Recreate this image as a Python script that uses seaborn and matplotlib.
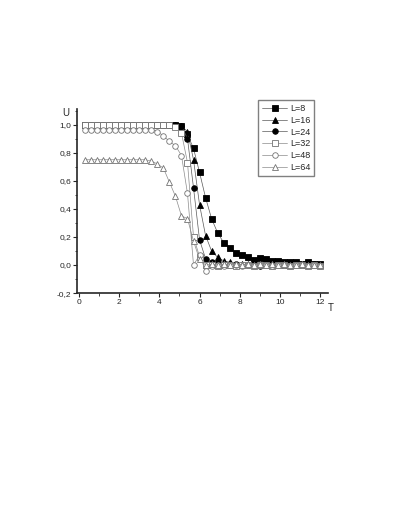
import numpy as np
import pandas as pd
import seaborn as sns
import matplotlib.pyplot as plt
from matplotlib.ticker import FuncFormatter, MultipleLocator

# temperature grid shared by all runs
T = [round(0.3 * k, 1) for k in range(1, 41)]

u_L8 = [1.0] * 16 + [0.99, 0.93, 0.83, 0.66, 0.48, 0.33, 0.23, 0.16, 0.12, 0.085,
                     0.07, 0.055, 0.035, 0.05, 0.04, 0.03, 0.03, 0.02, 0.02, 0.02,
                     0.01, 0.02, 0.01, 0.005]
u_L16 = [1.0] * 16 + [0.99, 0.95, 0.75, 0.43, 0.21, 0.10, 0.055, 0.03, 0.02, 0.01,
                      0.01, 0.005, 0.005, 0.0, 0.005, 0.0, 0.005, 0.0, 0.0, 0.005,
                      0.0, 0.0, 0.0, 0.0]
u_L24 = [1.0] * 16 + [0.99, 0.90, 0.55, 0.18, 0.045, 0.02, 0.02, 0.01, 0.01, 0.005,
                      0.0, 0.0, 0.0, -0.01, 0.0, 0.005, 0.0, 0.0, 0.005, 0.0,
                      0.0, 0.0, 0.005, 0.0]
u_L32 = [1.0] * 15 + [0.98, 0.94, 0.73, 0.20, 0.06, 0.0, 0.0, -0.005, 0.0, 0.0,
                      -0.005, 0.0, 0.0, -0.005, 0.0, 0.0, -0.005, 0.0, 0.0, -0.005,
                      0.0, 0.0, -0.005, 0.0, -0.005]
u_L48 = [0.965] * 12 + [0.95, 0.92, 0.88, 0.85, 0.78, 0.51, 0.0, 0.07, -0.04, -0.01,
                        0.0, -0.005, 0.0, 0.0, -0.005, 0.0, -0.01, 0.0, 0.0, -0.005,
                        0.0, 0.0, -0.005, 0.0, 0.0, -0.005, 0.0, -0.005]
u_L64 = [0.75] * 11 + [0.74, 0.72, 0.69, 0.59, 0.49, 0.35, 0.33, 0.17, 0.04, 0.0,
                       0.005, 0.0, 0.005, 0.0, 0.005, 0.0, 0.005, 0.0, 0.005, 0.0,
                       0.005, 0.0, 0.005, 0.0, 0.0, 0.005, 0.0, 0.0, 0.0]

labels = ['L=8', 'L=16', 'L=24', 'L=32', 'L=48', 'L=64']
series = [u_L8, u_L16, u_L24, u_L32, u_L48, u_L64]
markers = ['s', '^', 'o', 's', 'o', '^']
filled = [True, True, True, False, False, False]

sns.set_style("ticks")
plt.rcParams['font.family'] = ['Liberation Sans', 'DejaVu Sans']

fig = plt.figure(figsize=(4.1, 5.3), dpi=100)
ax = fig.add_axes([0.189, 0.447, 0.611, 0.347])

for lab, u, m, f in zip(labels, series, markers, filled):
    df = pd.DataFrame({'T': T, 'U': u})
    sns.lineplot(data=df, x='T', y='U', ax=ax, label=lab, marker=m,
                 color='0.35' if f else '0.55', linewidth=0.5,
                 markersize=4.0, markeredgewidth=0.6,
                 markerfacecolor='black' if f else 'white',
                 markeredgecolor='black' if f else '0.45')

ax.set_xlim(-0.08, 12.4)
ax.set_ylim(-0.2, 1.11)
ax.set_xticks(np.arange(0, 13, 2))
ax.set_yticks(np.arange(-0.2, 1.01, 0.2))
ax.xaxis.set_minor_locator(MultipleLocator(1))
ax.yaxis.set_minor_locator(MultipleLocator(0.1))
ax.yaxis.set_major_formatter(FuncFormatter(lambda v, p: f"{v:.1f}".replace('.', ',').replace('-0,0', '0,0')))
ax.tick_params(which='major', direction='out', length=3, width=0.8, labelsize=6, pad=1.5)
ax.tick_params(which='minor', direction='out', length=1.8, width=0.6)
for s in ['top', 'right']:
    ax.spines[s].set_visible(False)
for s in ['left', 'bottom']:
    ax.spines[s].set_linewidth(1.2)
ax.set_xlabel('')
ax.set_ylabel('')

fig.text(0.161, 0.787, 'U', fontsize=7, ha='center', va='center')
fig.text(0.807, 0.419, 'T', fontsize=7, ha='center', va='center')

ax.legend(loc='upper left', bbox_to_anchor=(0.629, 0.811), bbox_transform=fig.transFigure,
          borderaxespad=0, fontsize=6.5, frameon=True, fancybox=False,
          edgecolor='0.5', framealpha=1, handlelength=2.8, handletextpad=0.3,
          labelspacing=0.3, borderpad=0.45)

fig.savefig('out.png', dpi=100)
